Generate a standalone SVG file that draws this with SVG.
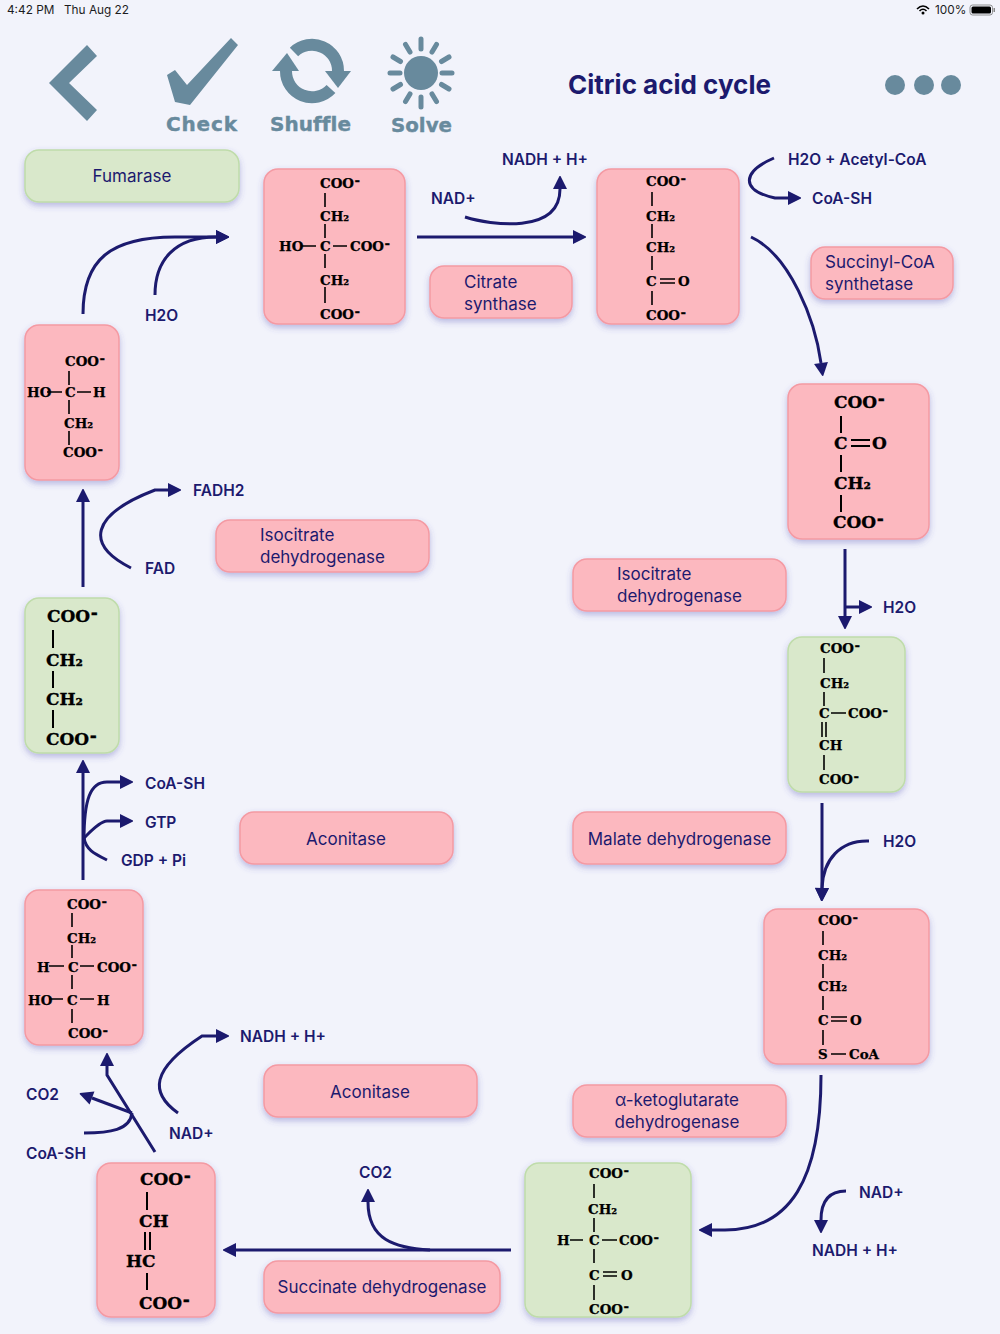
<svg xmlns="http://www.w3.org/2000/svg" width="1000" height="1334" viewBox="0 0 1000 1334">
<style>
text{font-family:"Inter","Liberation Sans",sans-serif}
.st{font-size:11.8px;fill:#1c1c1e}
.l{font-size:15.5px;font-weight:600;fill:#1c1a6e}
.e{font-size:17px;font-weight:400;fill:#1c1a6e}
.tb{font-family:"DejaVu Sans",sans-serif;font-size:20px;font-weight:700;fill:#688a9d;stroke:#688a9d;stroke-width:.4;font-variant-ligatures:none}
.t{font-size:26px;font-weight:700;fill:#1c1a6e}
.pink{fill:#fcb8bf;stroke:#f49aa3;stroke-width:1.5;filter:url(#sh)}
.green{fill:#d9e8cb;stroke:#bfdcaa;stroke-width:1.5;filter:url(#sh)}
.s text{font-family:"DejaVu Serif",serif;font-weight:700;font-size:13.4px;fill:#000;stroke:#000;stroke-width:.25}
.b text{font-family:"DejaVu Serif",serif;font-weight:700;font-size:17px;fill:#000;stroke:#000;stroke-width:.3}
.s path{stroke:#000;stroke-width:1.6;fill:none}
.b path{stroke:#000;stroke-width:2;fill:none}
.c path{fill:none;stroke:#1c1a6e;stroke-width:3}
.a{marker-end:url(#ah)}
.ic{fill:#688a9d}
</style>
<defs>
<filter id="sh" x="-20%" y="-20%" width="140%" height="140%"><feDropShadow dx="0" dy="3" stdDeviation="3" flood-color="#4a4ab0" flood-opacity="0.35"/></filter>
<marker id="ah" markerUnits="userSpaceOnUse" markerWidth="16" markerHeight="16" refX="0" refY="7" orient="auto" overflow="visible"><path d="M0,0L13,6.5L13,7.5L0,14z" fill="#1c1a6e"/></marker>
</defs>
<rect width="1000" height="1334" fill="#f2f3fb"/>

<g id="statusbar">
<text class="st" x="7" y="14">4:42 PM</text><text class="st" x="64" y="14">Thu Aug 22</text><text class="st" x="935" y="14">100%</text>
<path d="M917,9Q923,3 929,9M919.500,11Q923,7.500 926.500,11" fill="none" stroke="#000" stroke-width="1.600"/><circle cx="923" cy="13" r="1.500"/>
<rect x="970" y="5" width="22.500" height="10" rx="2.500" fill="none" stroke="#777" stroke-width="0.800"/><rect x="971.500" y="6.500" width="19.500" height="7" rx="1.500" fill="#000"/><rect x="993.500" y="8" width="1.500" height="4" fill="#888"/>
</g>

<g id="toolbar">
<polygon class="ic" points="87,45 97,56 69,83 97,110 87,121 49,83"/>
<polygon class="ic" points="167,75 175,70 187,85 231,38 238,45 190,105 175,102"/>
<path d="M294,52A26,26 0 0 1 338,71M286,71A26,26 0 0 0 331,89" fill="none" stroke="#688a9d" stroke-width="12"/>
<polygon class="ic" points="272,71 287,53 299,71"/><polygon class="ic" points="325,71 351,71 338,88"/>
<circle class="ic" cx="421" cy="73" r="17"/>
<g stroke="#688a9d" stroke-width="5" stroke-linecap="round"><path d="M421,39V49M421,97V107M390,73H400M442,73H452M405.500,44.500L410,52M432,94L436.500,101.500M405.500,101.500L410,94M432,52L436.500,44.500M393,57L400.500,61.500M441.500,84.500L449,89M393,89L400.500,84.500M441.500,61.500L449,57"/></g>
<text class="tb" x="166" y="131" textLength="71" lengthAdjust="spacing">Check</text><text class="tb" x="270" y="131" textLength="81" lengthAdjust="spacing">Shuffle</text><text class="tb" x="391" y="132" textLength="61" lengthAdjust="spacingAndGlyphs">Solve</text>
<text class="t" x="568" y="94">Citric acid cycle</text>
<circle class="ic" cx="895" cy="85" r="10"/><circle class="ic" cx="924" cy="85" r="10"/><circle class="ic" cx="951" cy="85" r="10"/>
</g>

<g id="connectors" class="c">
<path class="a" d="M83,314C83,260 110,237 175,237H216"/>
<path class="a" d="M155,295C155,260 175,237 216,237"/>
<path class="a" d="M417,237H573"/>
<path class="a" d="M465,217C490,225 560,235 560,189"/>
<path class="a" d="M774,158C742,172 740,190 775,198H788"/>
<path class="a" d="M751,237C790,255 815,320 821,363"/>
<path class="a" d="M845,549V616"/>
<path class="a" d="M846,607H859"/>
<path class="a" d="M822,803V888"/>
<path class="a" d="M869,841C840,840 823,860 822,888"/>
<path class="a" d="M821,1075C821,1180 790,1230 725,1230H712"/>
<path class="a" d="M846,1191C830,1191 821,1200 821,1220"/>
<path class="a" d="M511,1250H236"/>
<path class="a" d="M430,1250C395,1248 368,1240 368,1202"/>
<path class="a" d="M155,1152L107,1075V1066"/>
<path class="a" d="M132,1113L92,1098"/>
<path d="M84,1133C110,1133 130,1130 132,1113"/>
<path class="a" d="M178,1113C150,1093 150,1070 202,1036H216"/>
<path class="a" d="M83,880V773"/>
<path class="a" d="M84,840C84,800 90,782 107,782H120"/>
<path class="a" d="M84,838C90,832 100,821 107,821H120"/>
<path d="M107,860C95,854 86,850 84,838"/>
<path class="a" d="M83,587V502"/>
<path class="a" d="M131,568C85,545 90,515 155,490H168"/>
</g>

<g id="labels">
<text class="l" x="502" y="165">NADH + H+</text><text class="l" x="431" y="204">NAD+</text>
<text class="l" x="788" y="165">H2O + Acetyl-CoA</text><text class="l" x="812" y="204">CoA-SH</text>
<text class="l" x="145" y="321">H2O</text><text class="l" x="193" y="496">FADH2</text><text class="l" x="145" y="574">FAD</text>
<text class="l" x="883" y="613">H2O</text><text class="l" x="883" y="847">H2O</text>
<text class="l" x="145" y="789">CoA-SH</text><text class="l" x="145" y="828">GTP</text><text class="l" x="121" y="866">GDP + Pi</text>
<text class="l" x="240" y="1042">NADH + H+</text><text class="l" x="26" y="1100">CO2</text><text class="l" x="169" y="1139">NAD+</text><text class="l" x="26" y="1159">CoA-SH</text>
<text class="l" x="359" y="1178">CO2</text><text class="l" x="859" y="1198">NAD+</text><text class="l" x="812" y="1256">NADH + H+</text>
</g>

<g id="enz-fumarase"><rect class="green" x="25" y="150" width="214" height="52" rx="14"/><text class="e" x="132" y="182" text-anchor="middle">Fumarase</text></g>
<g id="enz-citrate"><rect class="pink" x="430" y="266" width="142" height="52" rx="14"/><text class="e" x="464" y="288">Citrate</text><text class="e" x="464" y="310">synthase</text></g>
<g id="enz-succinyl"><rect class="pink" x="811" y="247" width="142" height="52" rx="14"/><text class="e" x="825" y="268">Succinyl-CoA</text><text class="e" x="825" y="290">synthetase</text></g>
<g id="enz-iso1"><rect class="pink" x="216" y="520" width="213" height="52" rx="14"/><text class="e" x="260" y="541">Isocitrate</text><text class="e" x="260" y="563">dehydrogenase</text></g>
<g id="enz-iso2"><rect class="pink" x="573" y="559" width="213" height="52" rx="14"/><text class="e" x="617" y="580">Isocitrate</text><text class="e" x="617" y="602">dehydrogenase</text></g>
<g id="enz-aco1"><rect class="pink" x="240" y="812" width="213" height="52" rx="14"/><text class="e" x="346" y="845" text-anchor="middle">Aconitase</text></g>
<g id="enz-malate"><rect class="pink" x="573" y="812" width="213" height="52" rx="14"/><text class="e" x="679.500" y="845" text-anchor="middle">Malate dehydrogenase</text></g>
<g id="enz-aco2"><rect class="pink" x="264" y="1065" width="213" height="52" rx="14"/><text class="e" x="370" y="1098" text-anchor="middle">Aconitase</text></g>
<g id="enz-akg"><rect class="pink" x="573" y="1085" width="213" height="52" rx="14"/><text class="e" x="677" y="1106" text-anchor="middle">α-ketoglutarate</text><text class="e" x="677" y="1128" text-anchor="middle">dehydrogenase</text></g>
<g id="enz-succinate"><rect class="pink" x="264" y="1261" width="236" height="52" rx="14"/><text class="e" x="382" y="1293" text-anchor="middle">Succinate dehydrogenase</text></g>

<g id="node-citrate" class="s"><rect class="pink" x="264" y="169" width="141" height="155" rx="14"/>
<text x="320" y="188">COO<tspan dy="-3">-</tspan></text><path d="M325,193V207M325,224V238M325,254V268M325,287V303M302,246H316M333,246H347"/><text x="320" y="221">CH₂</text><text x="279" y="251">HO</text><text x="320" y="251">C</text><text x="350" y="251">COO<tspan dy="-3">-</tspan></text><text x="320" y="285">CH₂</text><text x="320" y="319">COO<tspan dy="-3">-</tspan></text></g>

<g id="node-oxaloacetate-top" class="s"><rect class="pink" x="597" y="169" width="142" height="155" rx="14"/>
<text x="646" y="186">COO<tspan dy="-3">-</tspan></text><path d="M652,192V206M652,224V238M652,256V270M652,291V305M660,279H675M660,283H675"/><text x="646" y="221">CH₂</text><text x="646" y="252">CH₂</text><text x="646" y="286">C</text><text x="678" y="286">O</text><text x="646" y="320">COO<tspan dy="-3">-</tspan></text></g>

<g id="node-ketoglutarate" class="b"><rect class="pink" x="788" y="384" width="141" height="155" rx="14"/>
<text x="834" y="408">COO<tspan dy="-4">-</tspan></text><path d="M841,416V433M841,455V472M841,495V512M851,440H870M851,446H870"/><text x="834" y="449">C</text><text x="872" y="449">O</text><text x="834" y="489">CH₂</text><text x="833" y="528">COO<tspan dy="-4">-</tspan></text></g>

<g id="node-aconitate" class="s"><rect class="green" x="788" y="637" width="117" height="155" rx="14"/>
<text x="820" y="653">COO<tspan dy="-3">-</tspan></text><path d="M824,658V673M824,692V706M822,722V737M826,722V737M831,713H846M824,755V770"/><text x="820" y="688">CH₂</text><text x="819" y="718">C</text><text x="848" y="718">COO<tspan dy="-3">-</tspan></text><text x="819" y="750">CH</text><text x="819" y="784">COO<tspan dy="-3">-</tspan></text></g>

<g id="node-succinylcoa" class="s"><rect class="pink" x="764" y="909" width="165" height="155" rx="14"/>
<text x="818" y="925">COO<tspan dy="-3">-</tspan></text><path d="M823,931V945M823,964V978M823,996V1010M831,1017H847M831,1021H847M823,1030V1045M831,1054H846"/><text x="818" y="960">CH₂</text><text x="818" y="991">CH₂</text><text x="818" y="1025">C</text><text x="850" y="1025">O</text><text x="818" y="1059">S</text><text x="849" y="1059">CoA</text></g>

<g id="node-oxalosuccinate" class="s"><rect class="green" x="525" y="1163" width="166" height="154" rx="14"/>
<text x="589" y="1178">COO<tspan dy="-3">-</tspan></text><path d="M594,1184V1198M594,1218V1232M570,1240H583M602,1240H617M594,1249V1263M603,1272H617M603,1276H617M594,1285V1300"/><text x="588" y="1214">CH₂</text><text x="557" y="1245">H</text><text x="589" y="1245">C</text><text x="619" y="1245">COO<tspan dy="-3">-</tspan></text><text x="589" y="1280">C</text><text x="621" y="1280">O</text><text x="589" y="1314">COO<tspan dy="-3">-</tspan></text></g>

<g id="node-fumarate-b" class="b"><rect class="pink" x="97" y="1163" width="118" height="154" rx="14"/>
<text x="140" y="1185">COO<tspan dy="-4">-</tspan></text><path d="M147,1192V1210M145,1232V1250M150,1232V1250M147,1273V1290"/><text x="139" y="1227">CH</text><text x="126" y="1267">HC</text><text x="139" y="1309">COO<tspan dy="-4">-</tspan></text></g>

<g id="node-isocitrate" class="s"><rect class="pink" x="25" y="890" width="118" height="155" rx="14"/>
<text x="67" y="909">COO<tspan dy="-3">-</tspan></text><path d="M72,913V927M72,945V958M49,966H64M80,966H94M72,975V989M49,999H63M80,999H94M72,1009V1023"/><text x="67" y="943">CH₂</text><text x="37" y="972">H</text><text x="68" y="972">C</text><text x="97" y="972">COO<tspan dy="-3">-</tspan></text><text x="28" y="1005">HO</text><text x="67" y="1005">C</text><text x="97" y="1005">H</text><text x="68" y="1038">COO<tspan dy="-3">-</tspan></text></g>

<g id="node-succinate" class="b"><rect class="green" x="25" y="598" width="94" height="155" rx="14"/>
<text x="47" y="622">COO<tspan dy="-4">-</tspan></text><path d="M53,630V648M53,671V688M53,710V728"/><text x="46" y="666">CH₂</text><text x="46" y="705">CH₂</text><text x="46" y="745">COO<tspan dy="-4">-</tspan></text></g>

<g id="node-malate" class="s"><rect class="pink" x="25" y="325" width="94" height="155" rx="14"/>
<text x="65" y="366">COO<tspan dy="-3">-</tspan></text><path d="M69,371V385M47,392H62M77,392H91M69,400V414M69,431V445"/><text x="27" y="397">HO</text><text x="65" y="397">C</text><text x="93" y="397">H</text><text x="64" y="428">CH₂</text><text x="63" y="457">COO<tspan dy="-3">-</tspan></text></g>
</svg>
